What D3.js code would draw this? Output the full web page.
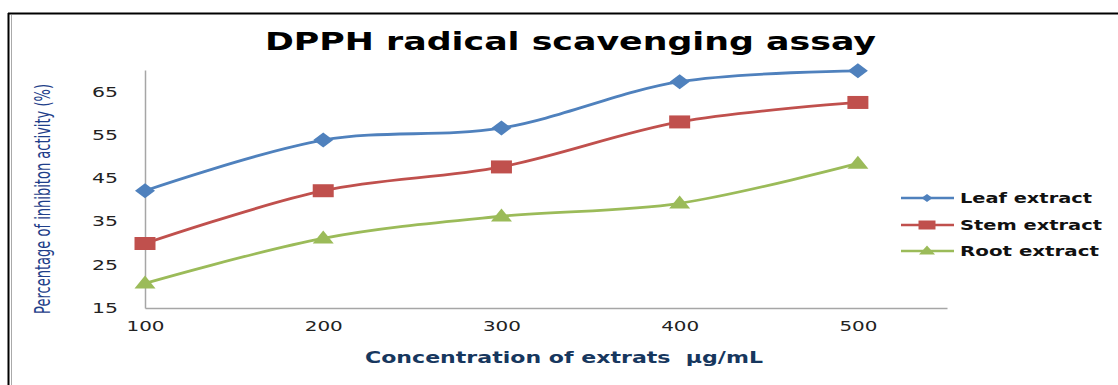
<!DOCTYPE html>
<html>
<head>
<meta charset="utf-8">
<script src="https://cdn.jsdelivr.net/npm/d3@7"></script>
<style>
  body { margin: 0; background: #fff; }
  text { font-family: "DejaVu Sans", sans-serif; }
</style>
</head>
<body>
<div id="chart"></div>
<script>
// data
var concentrations = [100, 200, 300, 400, 500];
var leafValues = [42.1, 53.8, 56.6, 67.3, 69.8];
var stemValues = [29.9, 42.1, 47.6, 58.0, 62.5];
var rootValues = [20.7, 31.1, 36.2, 39.2, 48.4];
var seriesNames = ["Leaf extract", "Stem extract", "Root extract"];
var yTicks = [15, 25, 35, 45, 55, 65];
var xTicks = [100, 200, 300, 400, 500];

var W = 1118, H = 385;
var colors = ["#4F81BD", "#C0504D", "#9BBB59"];

// marker shapes, given a width and a height (picture is stretched sideways)
function diamond(w, h) {
  return "M0," + (-h/2) + "L" + (w/2) + ",0L0," + (h/2) + "L" + (-w/2) + ",0Z";
}
function square(w, h) {
  return "M" + (-w/2) + "," + (-h/2) + "h" + w + "v" + h + "h" + (-w) + "Z";
}
function triangle(w, h) {
  return "M0," + (-h*0.6) + "L" + (w/2) + "," + (h*0.4) + "L" + (-w/2) + "," + (h*0.4) + "Z";
}
var shapes = [diamond, square, triangle];
var markerDims = [[20, 15], [21, 13], [21, 13]];
var legendDims = [[11, 8], [17, 9], [16, 9]];

var svg = d3.select("#chart").append("svg")
    .attr("width", W)
    .attr("height", H);

// frame (top and left only are visible)
svg.append("line").attr("x1", 8).attr("x2", W).attr("y1", 13.5).attr("y2", 13.5)
   .attr("stroke", "#000").attr("stroke-width", 2);
svg.append("line").attr("x1", 8.5).attr("x2", 8.5).attr("y1", 13).attr("y2", H)
   .attr("stroke", "#000").attr("stroke-width", 2);
svg.append("line").attr("x1", 11.5).attr("x2", 11.5).attr("y1", 15).attr("y2", H)
   .attr("stroke", "#aaa").attr("stroke-width", 1);

var xScale = d3.scaleLinear().domain([100, 550]).range([145, 947]);
var yScale = d3.scaleLinear().domain([15, 70]).range([308, 70]);

// axes
var xAxis = d3.axisBottom(xScale).tickValues(xTicks).tickSize(0).tickPadding(13)
    .tickFormat(d3.format("d"));
var gx = svg.append("g").attr("transform", "translate(0," + yScale(15) + ")").call(xAxis);
gx.select(".domain").attr("stroke", "#a6a6a6").attr("stroke-width", 1.5);
gx.selectAll("text").attr("font-size", 14).attr("fill", "#222")
  .attr("textLength", 38).attr("lengthAdjust", "spacingAndGlyphs");

var yAxis = d3.axisLeft(yScale).tickValues(yTicks).tickSize(0).tickPadding(27);
var gy = svg.append("g").attr("transform", "translate(" + xScale(100) + ",0)").call(yAxis);
gy.select(".domain").attr("stroke", "#a6a6a6").attr("stroke-width", 1.5);
gy.selectAll("text").attr("font-size", 14).attr("fill", "#222")
  .attr("textLength", 26).attr("lengthAdjust", "spacingAndGlyphs");

// series
var allSeries = [leafValues, stemValues, rootValues];
var line = d3.line()
    .x(function(d, i) { return xScale(concentrations[i]); })
    .y(function(d) { return yScale(d); })
    .curve(d3.curveCatmullRom.alpha(0.5));

allSeries.forEach(function(vals, s) {
  svg.append("path")
     .attr("d", line(vals))
     .attr("fill", "none")
     .attr("stroke", colors[s])
     .attr("stroke-width", 2.8);
});

allSeries.forEach(function(vals, s) {
  svg.append("g").selectAll("path")
     .data(vals)
     .enter().append("path")
     .attr("d", shapes[s](markerDims[s][0], markerDims[s][1]))
     .attr("transform", function(d, i) {
        return "translate(" + xScale(concentrations[i]) + "," + yScale(d) + ")";
     })
     .attr("fill", colors[s]);
});

// title
svg.append("text")
   .attr("x", 265).attr("y", 50)
   .attr("font-size", 25).attr("font-weight", "bold").attr("fill", "#000")
   .attr("textLength", 611).attr("lengthAdjust", "spacingAndGlyphs")
   .text("DPPH radical scavenging assay");

// axis titles (y title is tall and narrow in the reference)
svg.append("text")
   .attr("transform", "translate(50,199) rotate(-90) scale(1,1.55)")
   .attr("x", -115).attr("y", 0)
   .attr("font-size", 14).attr("fill", "#1F3F8A")
   .attr("textLength", 230).attr("lengthAdjust", "spacingAndGlyphs")
   .text("Percentage of inhibiton activity (%)");

svg.append("text")
   .attr("x", 365).attr("y", 363)
   .attr("font-size", 15).attr("font-weight", "bold").attr("fill", "#17375E")
   .style("white-space", "pre")
   .attr("textLength", 398).attr("lengthAdjust", "spacingAndGlyphs")
   .text("Concentration of extrats  \u00b5g/mL");

// legend
var legendY = [198, 225, 251];
var legendW = [132, 142, 139];
var legend = svg.append("g");
seriesNames.forEach(function(name, s) {
  var g = legend.append("g").attr("transform", "translate(0," + legendY[s] + ")");
  g.append("line").attr("x1", 901).attr("x2", 954).attr("y1", 0).attr("y2", 0)
   .attr("stroke", colors[s]).attr("stroke-width", 2.6);
  g.append("path")
   .attr("d", shapes[s](legendDims[s][0], legendDims[s][1]))
   .attr("transform", "translate(927,0)")
   .attr("fill", colors[s]);
  g.append("text")
   .attr("x", 960).attr("y", 5)
   .attr("font-size", 14).attr("font-weight", "bold").attr("fill", "#111")
   .attr("textLength", legendW[s]).attr("lengthAdjust", "spacingAndGlyphs")
   .text(name);
});
</script>
</body>
</html>
